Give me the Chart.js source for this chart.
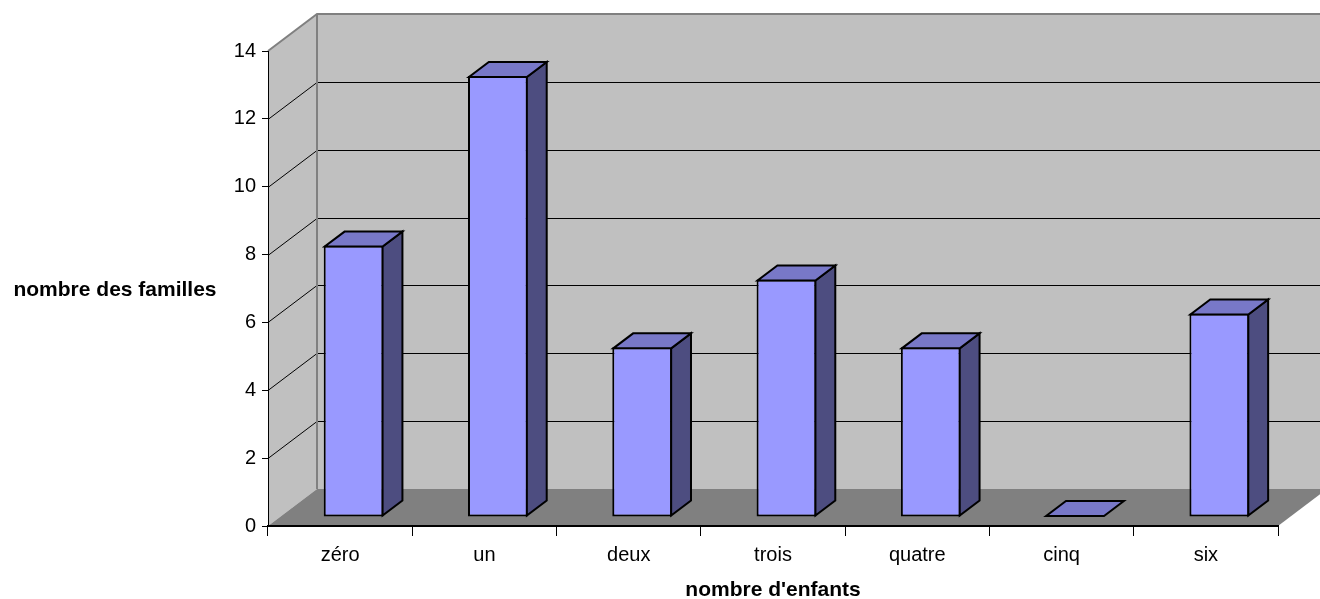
<!DOCTYPE html>
<html lang="fr">
<head>
<meta charset="utf-8">
<title>nombre des familles</title>
<script src="https://cdn.jsdelivr.net/npm/chart.js@4.4.0/dist/chart.umd.min.js"></script>
<style>
    html, body { margin: 0; padding: 0; background: #fff; }
    #zone { position: relative; width: 1320px; height: 599px; }
</style>
</head>
<body>
<div id="zone"><canvas id="graficoFamilles"></canvas></div>
<script>
// Données
const categories = ['zéro', 'un', 'deux', 'trois', 'quatre', 'cinq', 'six'];
const familles = [8, 13, 5, 7, 5, 0, 6];
const ticksY = [0, 2, 4, 6, 8, 10, 12, 14];
const titreX = "nombre d'enfants";
const titreY = 'nombre des familles';

// Perspective "3D" (style Excel)
const profondeur = { dx: 49, dy: -37 };
const decalageBarre = { dx: 13.5, dy: -9 }; // face avant des barres dans la profondeur
const epaisseurBarre = 0.405;               // épaisseur des barres dans la profondeur

const couleurs = {
    mur: '#c0c0c0',
    sol: '#808080',
    bord: '#808080',
    face: '#9999ff',
    dessus: '#7878c8',
    cote: '#4d4d80',
};

Chart.defaults.font.family = '"Liberation Sans", Arial, sans-serif';
Chart.defaults.color = '#000';

// Dessine un polygone rempli (et éventuellement contourné)
function poly(ctx, points, fond, contour) {
    ctx.beginPath();
    points.forEach(([px, py], i) => (i ? ctx.lineTo(px, py) : ctx.moveTo(px, py)));
    ctx.closePath();
    ctx.fillStyle = fond;
    ctx.fill();
    if (contour) ctx.stroke();
}

const decor3D = {
    id: 'decor3D',
    beforeDraw(chart) {
        const { ctx, chartArea: { left, right, top, bottom }, scales: { y } } = chart;
        const { dx, dy } = profondeur;
        ctx.save();
        ctx.fillStyle = '#fff';
        ctx.fillRect(0, 0, chart.width, chart.height);

        // murs et sol
        poly(ctx, [[left, top], [left + dx, top + dy], [left + dx, bottom + dy], [left, bottom]], couleurs.mur);
        poly(ctx, [[left + dx, top + dy], [right + dx, top + dy], [right + dx, bottom + dy], [left + dx, bottom + dy]], couleurs.mur);
        poly(ctx, [[left, bottom], [right, bottom], [right + dx, bottom + dy], [left + dx, bottom + dy]], couleurs.sol);

        // quadrillage sur le mur gauche et le fond
        ctx.strokeStyle = '#000';
        ctx.lineWidth = 1;
        ticksY.slice(1, -1).forEach((v) => {
            const py = Math.round(y.getPixelForValue(v)) + 0.5;
            ctx.beginPath();
            ctx.moveTo(left, py);
            ctx.lineTo(left + dx, py + dy);
            ctx.lineTo(right + dx, py + dy);
            ctx.stroke();
        });

        // bords gris des murs
        ctx.strokeStyle = couleurs.bord;
        ctx.lineWidth = 2;
        ctx.beginPath();
        ctx.moveTo(left, top);
        ctx.lineTo(left + dx, top + dy);
        ctx.lineTo(right + dx, top + dy);
        ctx.moveTo(left + dx, top + dy);
        ctx.lineTo(left + dx, bottom + dy);
        ctx.stroke();

        // titres des axes (horizontaux)
        ctx.fillStyle = '#000';
        ctx.font = 'bold 21px "Liberation Sans", Arial, sans-serif';
        ctx.textAlign = 'center';
        ctx.textBaseline = 'middle';
        ctx.fillText(titreY, 115, (top + bottom) / 2 + 2);
        ctx.fillText(titreX, (left + right) / 2, 590);
        ctx.restore();
    },
    beforeDatasetsDraw(chart) {
        chart.ctx.save();
        chart.ctx.translate(decalageBarre.dx, decalageBarre.dy);
    },
    afterDatasetsDraw(chart) {
        const ctx = chart.ctx;
        const ex = profondeur.dx * epaisseurBarre;
        const ey = profondeur.dy * epaisseurBarre;
        ctx.lineWidth = 2;
        ctx.strokeStyle = '#000';
        ctx.lineJoin = 'miter';
        chart.getDatasetMeta(0).data.forEach((barre) => {
            const { x, y, base, width } = barre.getProps(['x', 'y', 'base', 'width'], true);
            const g = x - width / 2 + 1;
            const d = x + width / 2 - 1;
            const plate = Math.abs(base - y) < 2;
            const b = base - 1;
            const h = plate ? b : y + 1;
            if (!plate) {
                poly(ctx, [[d, h], [d + ex, h + ey], [d + ex, b + ey], [d, b]], couleurs.cote, true);
            }
            poly(ctx, [[g, h], [d, h], [d + ex, h + ey], [g + ex, h + ey]], couleurs.dessus, true);
        });
        ctx.restore();
    },
};

const ctxFamilles = document.getElementById('graficoFamilles').getContext('2d');
new Chart(ctxFamilles, {
    type: 'bar',
    data: {
        labels: categories,
        datasets: [{
            label: titreY,
            data: familles,
            backgroundColor: couleurs.face,
            borderColor: '#000',
            borderWidth: 2,
            borderSkipped: false,
            barPercentage: 0.415,
            categoryPercentage: 1.0,
        }],
    },
    options: {
        responsive: true,
        maintainAspectRatio: false,
        animation: false,
        layout: { padding: { top: 51, right: 42, left: 0, bottom: 0 } },
        plugins: {
            legend: { display: false },
            tooltip: { enabled: false },
        },
        scales: {
            x: {
                grid: { offset: true, drawOnChartArea: false, tickLength: 10, color: '#000' },
                border: { color: '#000', width: 2 },
                ticks: { font: { size: 20 }, padding: 7, maxRotation: 0 },
                afterFit: (s) => { s.height = 73; },
            },
            y: {
                min: ticksY[0],
                max: ticksY[ticksY.length - 1],
                afterBuildTicks: (s) => { s.ticks = ticksY.map((v) => ({ value: v })); },
                grid: { drawOnChartArea: false, tickLength: 6, color: '#000' },
                border: { color: '#000', width: 1 },
                ticks: { font: { size: 20 }, padding: 6 },
                afterFit: (s) => { s.width = 268; },
            },
        },
    },
    plugins: [decor3D],
});
</script>
</body>
</html>
